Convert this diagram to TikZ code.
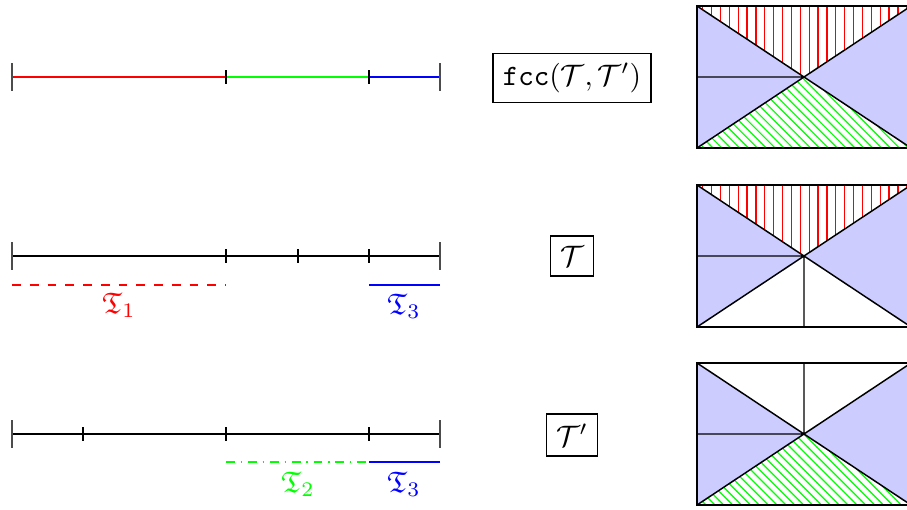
\documentclass[tikz,border=0pt]{standalone}
\usepackage{amsfonts}
\usetikzlibrary{patterns,calc}
\begin{document}
\begin{tikzpicture}[x=0.338pt,y=-0.338pt,
  axis/.style={line width=0.45pt},
  endtick/.style={line width=0.8pt,black!70},
  midtick/.style={line width=0.45pt},
  lab/.style={draw,line width=0.45pt,inner sep=3.3pt},
  tri/.style={line width=0.5pt},
  bluefill/.style={fill=blue!20},
  redhatch/.style={pattern=vertical lines,pattern color=red},
  greenhatch/.style={pattern=north west lines,pattern color=green}]
\useasboundingbox (0,0) rectangle (907,509);
\clip (0,0) rectangle (907,509);

% ---------- top line ----------
\foreach \n/\x in {a/12,b/226,c/298,d/369,e/440}{
  \coordinate (t\n) at (\x,77);
  \coordinate (m\n) at (\x,256);
  \coordinate (b\n) at (\x,434);
}
\draw[axis,red] (ta) -- (tb);
\draw[axis,green] (tb) -- (td);
\draw[axis,blue] (td) -- (te);
\foreach \p in {ta,te}{\draw[endtick] ($(\p)+(0,-14)$) -- ($(\p)+(0,14)$);}
\foreach \p in {tb,td}{\draw[midtick] ($(\p)+(0,-7)$) -- ($(\p)+(0,7)$);}

% ---------- middle line ----------
\draw[axis] (ma) -- (me);
\foreach \p in {ma,me}{\draw[endtick] ($(\p)+(0,-14)$) -- ($(\p)+(0,14)$);}
\foreach \p in {mb,mc,md}{\draw[midtick] ($(\p)+(0,-7)$) -- ($(\p)+(0,7)$);}
\coordinate (r1a) at (12,285); \coordinate (r1b) at (226,285);
\coordinate (r3a) at (369,285); \coordinate (r3b) at (440,285);
\draw[red,dashed,line width=0.45pt] (r1a) -- (r1b);
\draw[blue,line width=0.45pt] (r3a) -- (r3b);
\node[red] (T1) at (119,305) {$\mathfrak{T}_1$};
\node[blue] (T3a) at (404,306) {$\mathfrak{T}_3$};

% ---------- bottom line ----------
\coordinate (bf) at (83,434);
\draw[axis] (ba) -- (be);
\foreach \p in {ba,be}{\draw[endtick] ($(\p)+(0,-14)$) -- ($(\p)+(0,14)$);}
\foreach \p in {bf,bb,bd}{\draw[midtick] ($(\p)+(0,-7)$) -- ($(\p)+(0,7)$);}
\coordinate (g2a) at (226,462); \coordinate (g2b) at (369,462);
\coordinate (g3a) at (369,462); \coordinate (g3b) at (440,462);
\draw[green,dash dot,line width=0.45pt] (g2a) -- (g2b);
\draw[blue,line width=0.45pt] (g3a) -- (g3b);
\node[green] (T2) at (298,484) {$\mathfrak{T}_2$};
\node[blue] (T3b) at (404,484) {$\mathfrak{T}_3$};

% ---------- labels ----------
\node[lab] (fcc) at (572,78) {\texttt{fcc}$(\mathcal{T},\mathcal{T}')$};
\node[lab] (TT) at (572,256) {$\mathcal{T}$};
\node[lab] (TTp) at (572,435) {$\mathcal{T}'$};

% ---------- rectangles ----------
% rectangle 1: fcc
\begin{scope}
\coordinate (A1) at (697,6); \coordinate (B1) at (911,6);
\coordinate (C1) at (911,148); \coordinate (D1) at (697,148);
\coordinate (O1) at (804,77); \coordinate (L1) at (697,77);
\fill[redhatch] (A1) -- (B1) -- (O1) -- cycle;
\fill[greenhatch] (D1) -- (C1) -- (O1) -- cycle;
\fill[bluefill] (A1) -- (O1) -- (D1) -- cycle;
\fill[bluefill] (B1) -- (O1) -- (C1) -- cycle;
\draw[tri] (A1) -- (B1) -- (C1) -- (D1) -- cycle;
\draw[tri] (A1) -- (C1) (B1) -- (D1) (L1) -- (O1);
\end{scope}
% rectangle 2: T
\begin{scope}
\coordinate (A2) at (697,185); \coordinate (B2) at (911,185);
\coordinate (C2) at (911,327); \coordinate (D2) at (697,327);
\coordinate (O2) at (804,256); \coordinate (L2) at (697,256);
\coordinate (M2) at (804,327);
\fill[redhatch] (A2) -- (B2) -- (O2) -- cycle;
\fill[bluefill] (A2) -- (O2) -- (D2) -- cycle;
\fill[bluefill] (B2) -- (O2) -- (C2) -- cycle;
\draw[tri] (A2) -- (B2) -- (C2) -- (D2) -- cycle;
\draw[tri] (A2) -- (C2) (B2) -- (D2) (L2) -- (O2) (O2) -- (M2);
\end{scope}
% rectangle 3: T'
\begin{scope}
\coordinate (A3) at (697,363); \coordinate (B3) at (911,363);
\coordinate (C3) at (911,505); \coordinate (D3) at (697,505);
\coordinate (O3) at (804,434); \coordinate (L3) at (697,434);
\coordinate (M3) at (804,363);
\fill[greenhatch] (D3) -- (C3) -- (O3) -- cycle;
\fill[bluefill] (A3) -- (O3) -- (D3) -- cycle;
\fill[bluefill] (B3) -- (O3) -- (C3) -- cycle;
\draw[tri] (A3) -- (B3) -- (C3) -- (D3) -- cycle;
\draw[tri] (A3) -- (C3) (B3) -- (D3) (L3) -- (O3) (O3) -- (M3);
\end{scope}
\end{tikzpicture}
\end{document}
